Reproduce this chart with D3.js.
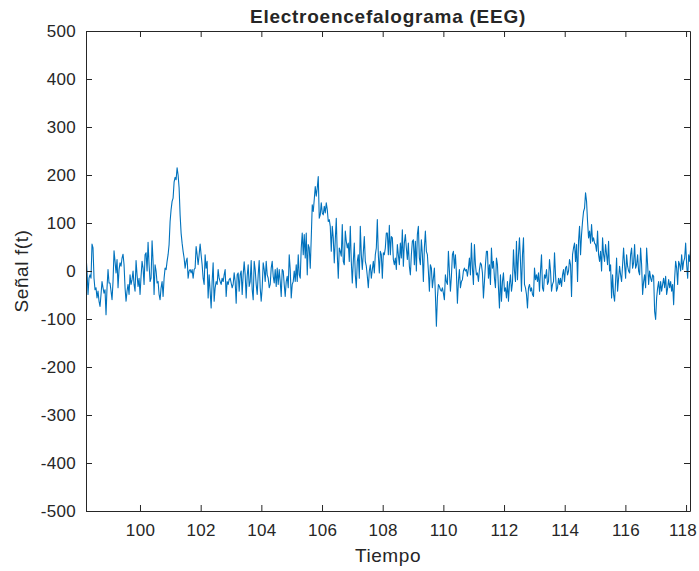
<!DOCTYPE html>
<html>
<head>
<meta charset="utf-8">
<script src="https://cdn.jsdelivr.net/npm/d3@7"></script>
<style>
  html, body { margin: 0; padding: 0; background: #fff; }
  svg { display: block; }
  text { font-family: "Liberation Sans", Arial, Helvetica, sans-serif; fill: #262626; }
</style>
</head>
<body>
<svg id="chart" width="699" height="571"></svg>
<script>
// EEG trace: uniformly sampled values, starting at tStart
const tStart = 98.22;
const dt = 0.033;
const signal = [
  34,0,-49,-15,-8,-15,56,48,-15,-39, -35,-56,-42,-63,-74,-49,-22,-35,-46,-39,
  -91,-35,3,-25,-25,-42,-60,-22,42,20, -4,24,-35,3,17,10,27,35,13,-35,
  -63,-42,-28,-49,-8,-28,-18,0,-28,-42, 22,-8,-32,-15,-49,-11,20,6,-28,34,
  38,0,60,13,-22,-15,63,20,-49,13, 0,-25,-22,-49,-60,-35,-22,-53,-15,6,
  3,20,34,55,103,128,145,152,185,195, 190,215,200,173,117,79,58,41,27,6,
  20,
  27,-15,0,3,-4,3,-15,3,6,51, 34,13,34,56,34,13,-15,-28,34,6,
  20,-56,-8,-42,-77,-22,17,-63,-35,-22, -28,3,-15,-22,-28,-15,-22,-8,3,-53,
  -22,-28,-18,-15,-25,-35,-28,-4,-22,-67, -8,-4,-42,-8,0,-49,-8,19,-8,-56,
  -11,13,-32,-22,22,-39,-60,20,3,-28, -49,-8,22,-35,-63,-35,17,3,-22,20,
  -8,-15,-35,-28,6,20,-11,-25,3,-32, 6,-28,3,-22,-53,3,0,-28,-53,-22,
  -11,-35,34,3,-56,-28,-22,0,-22,13, -22,34,-8,-15,48,79,34,76,27,79,
  -8,55,48,6,69,138,124,149,176,156, 173,197,110,117,142,121,117,135,121,142,
  128,103,107,93,41,93,69,17,65,110, 34,-15,48,41,31,97,20,13,83,62,
  48,58,20,93,20,-25,20,58,-8,-35, 20,34,-15,93,34,3,38,72,20,10,
  -11,-35,0,13,-15,3,20,-4,34,48, 107,34,-4,41,34,-15,38,34,48,79,
  79,34,95,34,72,69,24,13,27,3, 55,34,13,58,27,86,10,58,76,48,
  24,58,10,-8,34,62,65,13,62,0, 76,93,27,13,65,34,-22,48,83,41,
  34,0,-42,13,6,-35,-15,6,-49,-115, -56,-28,-32,-39,-42,-35,-46,-60,-8,-22,
  -28,41,0,-42,-11,34,41,6,34,-4, -67,-22,3,-35,-22,-18,0,6,0,3,
  -11,6,27,-8,58,6,-28,55,13,-8, -4,-22,3,17,13,-4,-56,-22,13,41,
  41,-15,13,-28,48,6,20,-15,-35,27, 13,-35,-77,-8,-63,-22,-4,-42,-35,-56,
  -22,-63,-28,-8,-42,-25,44,0,-22,62, -18,34,69,20,-42,34,69,-28,-35,-49,
  -77,-35,-28,-42,-35,-49,-53,6,-18,-8, -22,-4,-42,0,34,-35,-42,-8,-15,3,
  -28,-22,24,0,-42,-28,-22,38,-8,-42, -35,-15,-28,-15,-32,-8,3,-22,6,10,
  -8,0,24,13,-53,34,48,58,20,55, -22,62,93,34,76,103,124,131,163,145,
  103,69,83,58,97,62,69,58,55,41, 83,34,20,41,0,69,34,20,55,34,
  13,62,0,13,-56,-8,-49,-63,-22,27, -42,-15,10,-8,-22,13,48,13,-15,34,
  10,0,-4,34,48,6,17,55,6,13, 34,0,-8,48,13,-49,-22,-8,-35,48,
  13,-28,0,-15,-22,-8,-11,-84,-101,-56, -35,-22,-49,-22,-42,-28,-15,-35,-11,-49,
  -35,-18,-35,-22,-42,-28,-70,-15,20,6, -28,20,13,0,34,3,20,27,58,13,
  -15,34,20,48
];

const xDomain = [98.22, 118.13];
const yDomain = [-500, 500];
const xTicks = [100, 102, 104, 106, 108, 110, 112, 114, 116, 118];
const yTicks = [-500, -400, -300, -200, -100, 0, 100, 200, 300, 400, 500];

const titleText = "Electroencefalograma (EEG)";
const xLabel = "Tiempo";
const yLabel = "Señal f(t)";

const points = signal.map((v, i) => ({ t: tStart + i * dt, v }));

const width = 699, height = 571;
const svg = d3.select("#chart");
const plot = { left: 86, right: 690, top: 31, bottom: 511 };

const x = d3.scaleLinear().domain(xDomain).range([plot.left, plot.right]);
const y = d3.scaleLinear().domain(yDomain).range([plot.bottom, plot.top]);

svg.append("rect").attr("width", width).attr("height", height).attr("fill", "#fff");

svg.append("clipPath").attr("id", "plot-clip")
  .append("rect")
  .attr("x", plot.left).attr("y", plot.top)
  .attr("width", plot.right - plot.left).attr("height", plot.bottom - plot.top);

// signal trace
svg.append("path")
  .datum(points)
  .attr("clip-path", "url(#plot-clip)")
  .attr("fill", "none")
  .attr("stroke", "#0072BD")
  .attr("stroke-width", 1.1)
  .attr("stroke-linejoin", "round")
  .attr("d", d3.line().x(d => x(d.t)).y(d => y(d.v)));

const axisColor = "#262626";
const plainNumber = d => String(d);   // ASCII hyphen for negatives

function styleAxis(g) {
  g.selectAll("path.domain").attr("stroke", axisColor);
  g.selectAll(".tick line").attr("stroke", axisColor);
  g.selectAll(".tick text")
    .attr("fill", axisColor)
    .style("font-family", "'Liberation Sans', Arial, Helvetica, sans-serif")
    .style("font-size", "17px")
    .style("letter-spacing", "0.3px");
}

// bottom axis with labels, inward ticks
const bottomAxis = svg.append("g")
  .attr("transform", `translate(0,${plot.bottom})`)
  .call(d3.axisBottom(x).tickValues(xTicks).tickFormat(plainNumber)
    .tickSizeInner(-6).tickSizeOuter(0).tickPadding(13))
  .call(styleAxis);

// keep the last tick label inside the canvas
bottomAxis.selectAll(".tick").each(function () {
  const tick = d3.select(this);
  const label = tick.select("text");
  const box = this.getBBox();
  const tx = +tick.attr("transform").match(/translate\(([-\d.]+)/)[1];
  const overflow = tx + box.x + box.width - (width - 2);
  if (overflow > 0) label.attr("dx", -overflow);
});

// top axis, ticks only
svg.append("g")
  .attr("transform", `translate(0,${plot.top})`)
  .call(d3.axisTop(x).tickValues(xTicks).tickFormat("")
    .tickSizeInner(-6).tickSizeOuter(0))
  .call(styleAxis);

// left axis with labels
svg.append("g")
  .attr("transform", `translate(${plot.left},0)`)
  .call(d3.axisLeft(y).tickValues(yTicks).tickFormat(plainNumber)
    .tickSizeInner(-6).tickSizeOuter(0).tickPadding(10))
  .call(styleAxis);

// right axis, ticks only
svg.append("g")
  .attr("transform", `translate(${plot.right},0)`)
  .call(d3.axisRight(y).tickValues(yTicks).tickFormat("")
    .tickSizeInner(-6).tickSizeOuter(0))
  .call(styleAxis);

// title and axis labels
svg.append("text")
  .attr("x", (plot.left + plot.right) / 2)
  .attr("y", 23)
  .attr("text-anchor", "middle")
  .style("font-size", "19px")
  .style("font-weight", "bold")
  .style("letter-spacing", "0.75px")
  .text(titleText);

svg.append("text")
  .attr("x", (plot.left + plot.right) / 2)
  .attr("y", 562)
  .attr("text-anchor", "middle")
  .style("font-size", "19px")
  .style("letter-spacing", "0.6px")
  .text(xLabel);

svg.append("text")
  .attr("transform", `translate(28,${(plot.top + plot.bottom) / 2}) rotate(-90)`)
  .attr("text-anchor", "middle")
  .style("font-size", "19px")
  .style("letter-spacing", "0.6px")
  .text(yLabel);
</script>
</body>
</html>
